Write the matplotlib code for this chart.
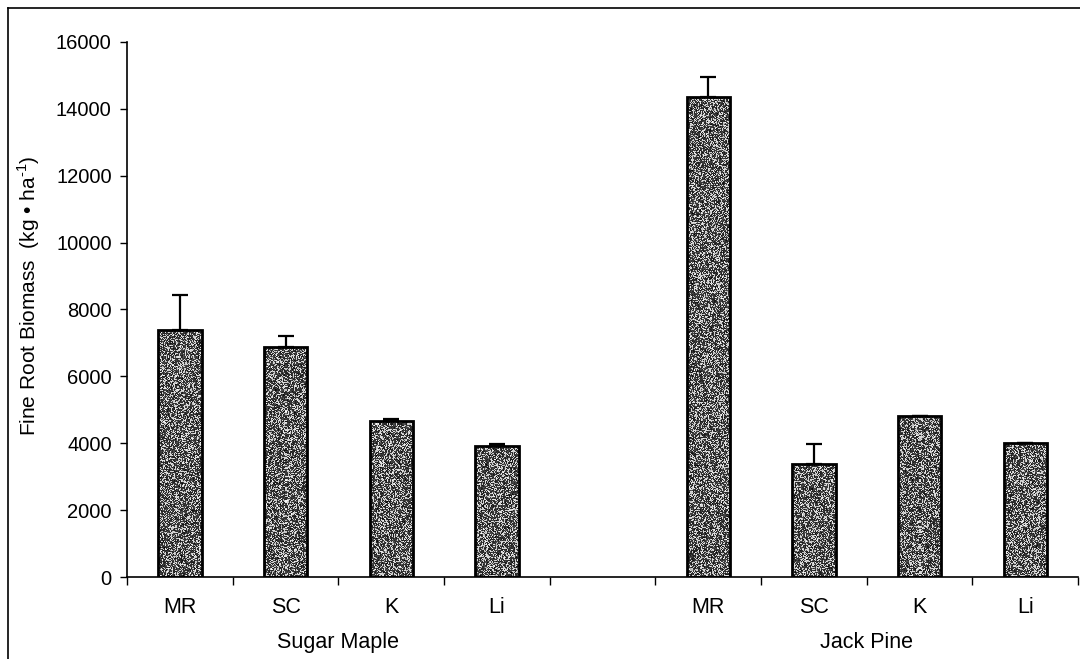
import numpy as np
import matplotlib
matplotlib.use("Agg")
import matplotlib.pyplot as plt
from matplotlib.lines import Line2D

plt.rcParams['font.family'] = ['Liberation Sans', 'DejaVu Sans']
plt.rcParams['mathtext.fontset'] = 'custom'
plt.rcParams['mathtext.rm'] = 'Liberation Sans'

# Fine root biomass (kg/ha) by site, two forest types
sites = ['MR', 'SC', 'K', 'Li']
groups = ['Sugar Maple', 'Jack Pine']
maple_mean = [7400, 6890, 4680, 3920]
maple_err = [1020, 330, 50, 50]
pine_mean = [14350, 3390, 4820, 4020]
pine_err = [600, 600, 0, 0]

# one empty slot between the two groups
x_maple = np.arange(len(sites))
x_pine = np.arange(len(sites)) + len(sites) + 1

fig = plt.figure(figsize=(10.8, 6.59), dpi=100)
ax = fig.add_axes([0.1176, 0.1244, 0.8806, 0.8120])

# speckled grey fill for the bars, roughly one cell per pixel
rng = np.random.default_rng(7)
speckle = np.where(rng.random((535, 951)) < 0.64, 0.2, 0.82)
speckle = speckle + rng.normal(0, 0.07, speckle.shape)

for xs, means, errs in [(x_maple, maple_mean, maple_err), (x_pine, pine_mean, pine_err)]:
    bars = ax.bar(xs, means, width=0.41, facecolor='none', edgecolor='black',
                  linewidth=2.0, zorder=3)
    for b in bars:
        im = ax.imshow(speckle, cmap='gray', vmin=0, vmax=1, aspect='auto',
                       extent=(-0.5, 8.5, 0, 16000), interpolation='nearest', zorder=2)
        im.set_clip_path(b)
    ax.errorbar(xs, means, yerr=[np.zeros(len(errs)), errs], fmt='none',
                ecolor='black', elinewidth=1.6, capsize=6, capthick=1.6, zorder=4)

ax.set_xlim(-0.5, 8.5)
ax.set_ylim(0, 16000)
ax.set_yticks(np.arange(0, 16001, 2000))
ax.tick_params(axis='y', labelsize=14.5, direction='out', length=5, width=1, pad=6)

# tick marks on slot boundaries, labels under the bars
ax.set_xticks(np.arange(-0.5, 9, 1))
ax.set_xticklabels([])
ax.tick_params(axis='x', direction='out', length=6, width=1)
for xi, name in zip(list(x_maple) + list(x_pine), sites + sites):
    ax.text(xi, -0.057, name, transform=ax.get_xaxis_transform(), ha='center',
            va='center', fontsize=15.5)
for xs, g in [(x_maple, groups[0]), (x_pine, groups[1])]:
    ax.text(xs.mean(), -0.122, g, transform=ax.get_xaxis_transform(), ha='center',
            va='center', fontsize=15.5)

for s in ['top', 'right']:
    ax.spines[s].set_visible(False)
ax.spines['left'].set_linewidth(1.2)
ax.spines['bottom'].set_linewidth(1.2)

ax.set_ylabel('Fine Root Biomass  (kg • ha$^{\\text{-1}}$)', fontsize=15)
ax.yaxis.set_label_coords(-0.089, 0.525)

# outer frame lines on the left and top
fig.add_artist(Line2D([8 / 1080, 8 / 1080], [0, 1 - 8 / 659], color='black', lw=1.2,
                      transform=fig.transFigure))
fig.add_artist(Line2D([8 / 1080, 1], [1 - 8 / 659, 1 - 8 / 659], color='black', lw=1.2,
                      transform=fig.transFigure))

fig.savefig('out.png', dpi=100)
